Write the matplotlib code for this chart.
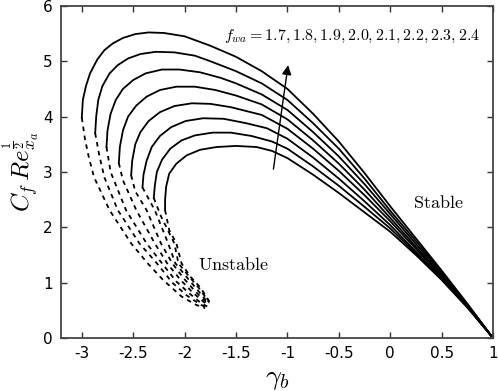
import matplotlib
matplotlib.use('Agg')
import matplotlib.pyplot as plt

plt.rcParams['mathtext.fontset'] = 'cm'
plt.rcParams['axes.unicode_minus'] = False

fwa_values = [1.7, 1.8, 1.9, 2.0, 2.1, 2.2, 2.3, 2.4]

# upper (stable) branches, from left end to (1, 0)
upper_x = [
    [-2.19, -2.19, -2.18, -2.15, -2.08, -1.98, -1.85, -1.69, -1.5, -1.3, -1.15, -1.0, -0.75, -0.5, -0.25, 0.0, 0.25, 0.5, 0.75, 1.0],
    [-2.30, -2.29, -2.27, -2.22, -2.14, -2.03, -1.9, -1.73, -1.55, -1.35, -1.15, -1.0, -0.75, -0.5, -0.25, 0.0, 0.25, 0.5, 0.75, 1.0],
    [-2.41, -2.40, -2.37, -2.32, -2.24, -2.13, -1.99, -1.82, -1.62, -1.4, -1.2, -1.0, -0.75, -0.5, -0.25, 0.0, 0.25, 0.5, 0.75, 1.0],
    [-2.52, -2.51, -2.48, -2.43, -2.35, -2.24, -2.1, -1.93, -1.75, -1.55, -1.25, -1.0, -0.75, -0.5, -0.25, 0.0, 0.25, 0.5, 0.75, 1.0],
    [-2.64, -2.63, -2.60, -2.55, -2.47, -2.37, -2.24, -2.08, -1.9, -1.7, -1.5, -1.25, -1.0, -0.75, -0.5, -0.25, 0.0, 0.25, 0.5, 0.75, 1.0],
    [-2.76, -2.75, -2.72, -2.67, -2.6, -2.5, -2.38, -2.22, -2.05, -1.85, -1.65, -1.5, -1.25, -1.0, -0.75, -0.5, -0.25, 0.0, 0.25, 0.5, 0.75, 1.0],
    [-2.87, -2.86, -2.84, -2.80, -2.73, -2.65, -2.55, -2.43, -2.28, -2.1, -1.9, -1.75, -1.5, -1.25, -1.0, -0.75, -0.5, -0.25, 0.0, 0.25, 0.5, 0.75, 1.0],
    [-3.0, -2.99, -2.96, -2.92, -2.85, -2.78, -2.7, -2.6, -2.48, -2.35, -2.2, -2.0, -1.75, -1.5, -1.25, -1.0, -0.75, -0.5, -0.25, 0.0, 0.25, 0.5, 0.75, 1.0],
]
upper_y = [
    [2.31, 2.5, 2.73, 2.97, 3.15, 3.30, 3.40, 3.45, 3.47, 3.45, 3.38, 3.25, 2.95, 2.62, 2.27, 1.92, 1.5, 1.05, 0.55, 0.0],
    [2.53, 2.75, 3.0, 3.22, 3.42, 3.57, 3.66, 3.71, 3.71, 3.65, 3.55, 3.42, 3.1, 2.75, 2.37, 1.98, 1.53, 1.06, 0.56, 0.0],
    [2.72, 2.95, 3.2, 3.45, 3.65, 3.81, 3.92, 3.97, 3.96, 3.88, 3.79, 3.6, 3.26, 2.88, 2.47, 2.04, 1.56, 1.08, 0.57, 0.0],
    [2.94, 3.2, 3.5, 3.72, 3.92, 4.08, 4.19, 4.24, 4.23, 4.17, 4.03, 3.78, 3.42, 3.02, 2.58, 2.11, 1.61, 1.11, 0.58, 0.0],
    [3.16, 3.45, 3.75, 4.0, 4.2, 4.36, 4.48, 4.54, 4.54, 4.48, 4.38, 4.22, 3.95, 3.57, 3.15, 2.68, 2.17, 1.65, 1.13, 0.59, 0.0],
    [3.45, 3.75, 4.05, 4.3, 4.5, 4.66, 4.78, 4.85, 4.85, 4.8, 4.7, 4.6, 4.4, 4.12, 3.72, 3.28, 2.78, 2.24, 1.7, 1.16, 0.6, 0.0],
    [3.70, 4.0, 4.3, 4.55, 4.78, 4.93, 5.05, 5.13, 5.17, 5.16, 5.1, 5.0, 4.82, 4.6, 4.3, 3.88, 3.42, 2.88, 2.3, 1.75, 1.19, 0.61, 0.0],
    [3.98, 4.3, 4.55, 4.78, 5.03, 5.2, 5.32, 5.42, 5.49, 5.52, 5.51, 5.45, 5.28, 5.08, 4.82, 4.5, 4.05, 3.55, 2.98, 2.38, 1.8, 1.22, 0.62, 0.0],
]

# lower (unstable) branches, from the end of the upper branch down to the tip
lower_x = [
    [-2.19, -2.15, -2.08, -2.03, -1.95, -1.85, -1.79, -1.76],
    [-2.30, -2.23, -2.10, -2.06, -1.96, -1.86, -1.79, -1.76],
    [-2.41, -2.29, -2.16, -2.09, -1.98, -1.88, -1.80, -1.76],
    [-2.52, -2.48, -2.37, -2.23, -2.12, -2.01, -1.90, -1.81, -1.76],
    [-2.64, -2.60, -2.47, -2.29, -2.17, -2.04, -1.92, -1.82, -1.77],
    [-2.76, -2.72, -2.57, -2.37, -2.22, -2.08, -1.95, -1.84, -1.78],
    [-2.87, -2.83, -2.78, -2.65, -2.44, -2.27, -2.12, -1.98, -1.86, -1.79],
    [-3.0, -2.97, -2.93, -2.88, -2.73, -2.52, -2.36, -2.21, -2.03, -1.89, -1.80],
]
lower_y = [
    [2.31, 1.95, 1.71, 1.35, 1.12, 0.92, 0.75, 0.66],
    [2.53, 2.2, 1.71, 1.35, 1.12, 0.9, 0.72, 0.64],
    [2.72, 2.31, 1.71, 1.35, 1.1, 0.88, 0.7, 0.62],
    [2.94, 2.65, 2.31, 1.71, 1.35, 1.08, 0.85, 0.68, 0.6],
    [3.16, 2.85, 2.31, 1.71, 1.35, 1.05, 0.82, 0.66, 0.59],
    [3.45, 3.0, 2.31, 1.71, 1.35, 1.02, 0.8, 0.63, 0.57],
    [3.70, 3.3, 2.9, 2.31, 1.71, 1.35, 1.0, 0.77, 0.62, 0.55],
    [3.98, 3.6, 3.25, 2.9, 2.31, 1.71, 1.35, 1.05, 0.75, 0.6, 0.54],
]

fig = plt.figure(figsize=(4.98, 3.91), dpi=100)
ax = fig.add_axes([0.123, 0.1355, 0.867, 0.8495])

for i in range(len(fwa_values)):
    ax.plot(upper_x[i], upper_y[i], color='black', linewidth=1.3)
    ax.plot(lower_x[i], lower_y[i], color='black', linewidth=1.3,
            linestyle=(0, (2.5, 2.5)))

ax.annotate('', xy=(-0.99, 4.98), xytext=(-1.14, 3.0),
            arrowprops=dict(arrowstyle='-|>', color='black', lw=1.0,
                            mutation_scale=14))
label = ', '.join('{:.1f}'.format(v) for v in fwa_values)
ax.text(-1.62, 5.45, r'$f_{wa} = ' + label + '$', fontsize=11.5,
        va='center', ha='left')
ax.text(0.47, 2.44, r'$\mathrm{Stable}$', fontsize=13, ha='center', va='center')
ax.text(-1.52, 1.32, r'$\mathrm{Unstable}$', fontsize=13, ha='center', va='center')

ax.set_xlim(-3.2, 1)
ax.set_ylim(0, 6)
ax.set_xticks([-3, -2.5, -2, -1.5, -1, -0.5, 0, 0.5, 1])
ax.set_xticklabels(['-3', '-2.5', '-2', '-1.5', '-1', '-0.5', '0', '0.5', '1'])
ax.set_yticks([0, 1, 2, 3, 4, 5, 6])
ax.tick_params(direction='in', top=True, right=True, length=4, width=1,
               labelsize=11, colors='#333333', labelcolor='black', pad=6)
for s in ax.spines.values():
    s.set_linewidth(1.3)
    s.set_color('#444444')

ax.set_xlabel(r'$\gamma_b$', fontsize=20, labelpad=2)
ax.set_ylabel(r'$C_f\,Re_{x_a}^{\frac{1}{2}}$', fontsize=18)
ax.yaxis.set_label_coords(-0.045, 0.5)

fig.savefig('out.png', dpi=100)
